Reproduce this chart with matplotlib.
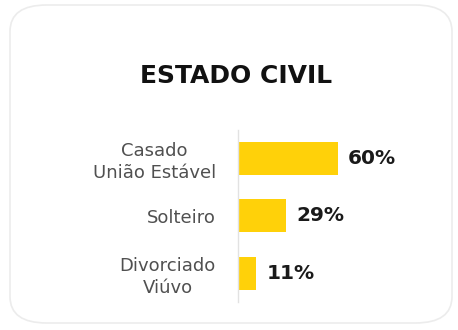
import matplotlib.pyplot as plt
from matplotlib.patches import FancyBboxPatch

categories = ["Casado\nUnião Estável", "Solteiro", "Divorciado\nViúvo"]
values = [60, 29, 11]
value_labels = ["60%", "29%", "11%"]

W, H = 458, 330
fig = plt.figure(figsize=(W / 100, H / 100), dpi=100)
fig.patch.set_facecolor("white")

# rounded card behind everything
card = FancyBboxPatch((10 / W, 7 / H), 442 / W, 318 / H,
                      boxstyle="round,pad=0,rounding_size=0.08",
                      transform=fig.transFigure, facecolor="white",
                      edgecolor="#ececec", linewidth=1.2, zorder=-5)
fig.patches.append(card)

fig.text(236 / W, 1 - 76 / H, "ESTADO CIVIL", ha="center", va="center",
         fontsize=18, fontweight="heavy", family="DejaVu Sans",
         color="#111111")

ax = fig.add_axes([238 / W, 28 / H, 166 / W, 172.5 / H])
ax.set_facecolor("none")
ypos = list(range(len(values)))
bars = ax.barh(ypos, values, height=0.57, color="#FFD109")
ax.set_xlim(0, 100)
ax.set_ylim(2.5, -0.5)

for b, lab in zip(bars, value_labels):
    ax.text(b.get_width() + 6, b.get_y() + b.get_height() / 2, lab,
            va="center", ha="left", fontsize=14.5, fontweight="bold",
            color="#1a1a1a")

ax.set_yticks(ypos)
ax.set_yticklabels(categories, fontsize=13, color="#505050",
                   linespacing=1.25, multialignment="center")
ax.tick_params(axis="y", length=0, pad=16)
ax.set_xticks([])
for s in ["top", "right", "bottom"]:
    ax.spines[s].set_visible(False)
ax.spines["left"].set_color("#e2e2e2")
ax.spines["left"].set_linewidth(1)

fig.savefig("out.png", dpi=100)
